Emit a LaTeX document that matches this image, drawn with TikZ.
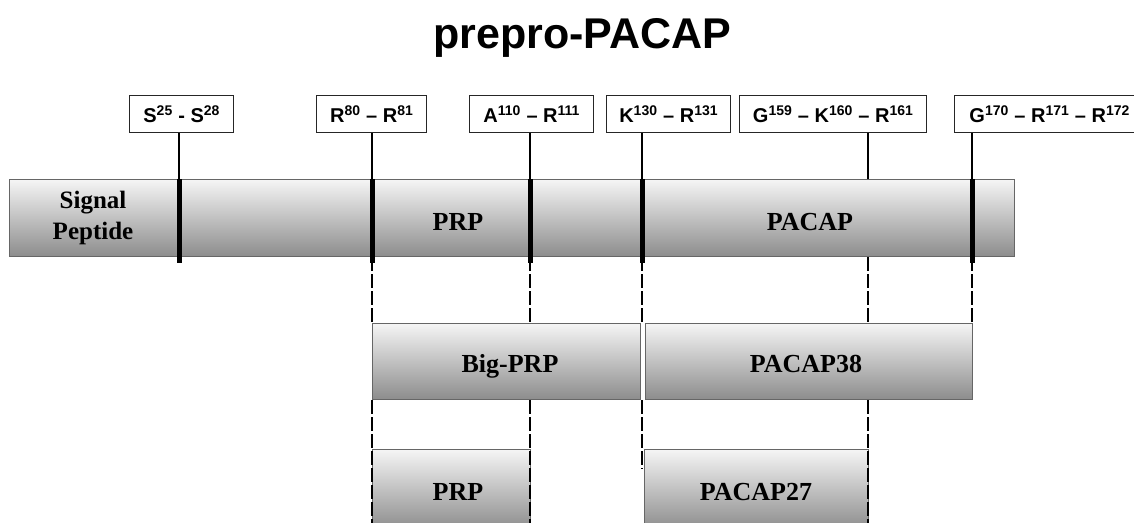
\documentclass[tikz,border=0pt]{standalone}
\usepackage{fontspec}
\setmainfont{Liberation Serif}
\setsansfont{Liberation Sans}
\usetikzlibrary{calc}
\begin{document}
\begin{tikzpicture}[x=1pt,y=-1pt,
  seg/.style={draw=black!60, line width=1.3pt, top color=white!96!black, middle color=black!14, bottom color=black!45, inner sep=0pt, anchor=north west},
  lblbox/.style={draw=black!85, line width=1.4pt, fill=white, inner sep=0pt, minimum height=37pt, anchor=north west, font=\sffamily\bfseries\fontsize{20}{24}\selectfont},
  segtext/.style={font=\rmfamily\bfseries\fontsize{26}{30}\selectfont, anchor=base, inner sep=0pt},
  thintick/.style={line width=2.4pt, black},
  heavy/.style={line width=5pt, black},
  dashline/.style={line width=2.8pt, black, dash pattern=on 14pt off 3pt}
]
\useasboundingbox (0,0) rectangle (1134,522);

% title
\node[font=\sffamily\bfseries\fontsize{43}{50}\selectfont, anchor=base, inner sep=0pt] (title) at (582,48) {prepro-PACAP};

% cleavage positions
\coordinate (t1) at (179,0);
\coordinate (t2) at (372,0);
\coordinate (t3) at (530,0);
\coordinate (t4) at (642,0);
\coordinate (t5) at (868,0);
\coordinate (t6) at (972,0);
\coordinate (bot) at (0,530);

% main bar
\node[seg, minimum width=1005pt, minimum height=77pt] (bar) at (9,179) {};

% label boxes
\node[lblbox, minimum width=104pt] (lS) at (129,95) {S\textsuperscript{25} - S\textsuperscript{28}};
\node[lblbox, minimum width=110pt] (lR) at (316,95) {R\textsuperscript{80} -- R\textsuperscript{81}};
\node[lblbox, minimum width=124pt] (lA) at (469,95) {A\textsuperscript{110} -- R\textsuperscript{111}};
\node[lblbox, minimum width=124pt] (lK) at (606,95) {K\textsuperscript{130} -- R\textsuperscript{131}};
\node[lblbox, minimum width=187pt] (lG) at (739,95) {G\textsuperscript{159} -- K\textsuperscript{160} -- R\textsuperscript{161}};
\node[lblbox, minimum width=190pt] (lH) at (954,95) {G\textsuperscript{170} -- R\textsuperscript{171} -- R\textsuperscript{172}};

% ticks from labels to bar
\draw[thintick] (lS.south -| t1) -- (t1 |- bar.north);
\draw[thintick] (lR.south -| t2) -- (t2 |- bar.north);
\draw[thintick] (lA.south -| t3) -- (t3 |- bar.north);
\draw[thintick] (lK.south -| t4) -- (t4 |- bar.north);
\draw[thintick] (lG.south -| t5) -- (t5 |- bar.north);
\draw[thintick] (lH.south -| t6) -- (t6 |- bar.north);

% heavy cuts in bar
\foreach \t in {t1,t2,t3,t4,t6}
  \draw[heavy] (\t |- bar.north) -- ([yshift=-6pt]\t |- bar.south);

% row 2
\node[seg, minimum width=268pt, minimum height=76pt] (big) at (372,323) {};
\node[seg, minimum width=327pt, minimum height=76pt] (p38) at (645,323) {};

% dashed from bar to row 2
\draw[dashline] (t2 |- bar.south) -- (t2 |- big.north);
\draw[dashline] (t3 |- bar.south) -- (t3 |- big.north);
\draw[dashline] (t4 |- bar.south) -- (t4 |- big.north);
\draw[dashline] (t5 |- bar.south) -- (t5 |- p38.north);
\draw[dashline] (t6 |- bar.south) -- (t6 |- p38.north);

% row 3
\node[seg, minimum width=158pt, minimum height=80pt] (prp2) at (372,449) {};
\node[seg, minimum width=224pt, minimum height=80pt] (p27) at (644,449) {};

% dashed from row 2 downward
\draw[dashline] (t2 |- big.south) -- (t2 |- bot);
\draw[dashline] (t3 |- big.south) -- (t3 |- bot);
\draw[dashline] (t4 |- big.south) -- ([yshift=-20pt]t4 |- p27.north);
\draw[dashline] (t5 |- p38.south) -- (t5 |- bot);

% texts
\node[font=\rmfamily\bfseries\fontsize{25}{31}\selectfont, align=center, inner sep=0pt] (sp) at (93,218) {Signal\\Peptide};
\node[segtext] (tPRP) at (458,230) {PRP};
\node[segtext] (tPACAP) at (810,230) {PACAP};
\node[segtext] (tBig) at (510,372) {Big-PRP};
\node[segtext] (t38) at (806,372) {PACAP38};
\node[segtext] (tPRP2) at (458,500) {PRP};
\node[segtext] (t27) at (756,500) {PACAP27};
\end{tikzpicture}
\end{document}
